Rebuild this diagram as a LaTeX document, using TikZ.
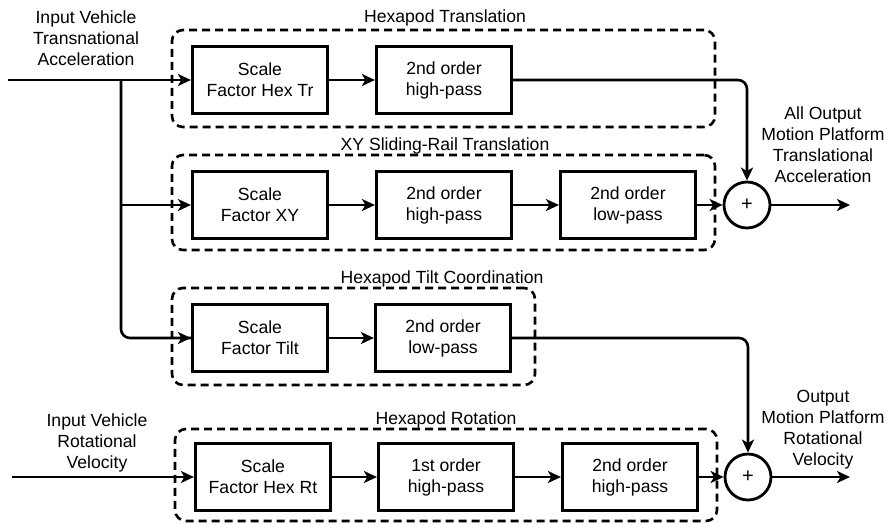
\documentclass[tikz,border=0pt]{standalone}
\usepackage{fontspec}
\setmainfont{Liberation Sans}
\usetikzlibrary{arrows.meta}
\begin{document}
\begin{tikzpicture}[x=1pt,y=-1pt,
  font=\fontsize{17.6}{21}\selectfont,
  blk/.style={draw, line width=3.2pt, minimum width=135pt, minimum height=67pt, align=center, inner sep=0pt},
  grp/.style={draw, dashed, dash pattern=on 8pt off 5pt, line width=2.6pt, rounded corners=11pt, inner sep=0pt},
  gtitle/.style={inner sep=1pt},
  lbl/.style={align=center, inner sep=0pt},
  sumc/.style={draw, circle, line width=2.8pt, minimum size=46pt, inner sep=0pt, font=\fontsize{20}{20}\selectfont},
  con/.style={line width=2.6pt},
  arr/.style={con, -{Stealth[length=13pt,width=12pt,inset=3.5pt]}}]
\useasboundingbox (0,0) rectangle (889,523);

% groups
\node[grp, minimum width=543pt, minimum height=97pt] (g1) at (443.5,78.5) {};
\node[grp, minimum width=543pt, minimum height=95pt] (g2) at (443.5,202.5) {};
\node[grp, minimum width=363pt, minimum height=97pt] (g3) at (353.5,336.5) {};
\node[grp, minimum width=542pt, minimum height=92pt] (g4) at (446,475) {};
\node[gtitle] (t1) at (445,18) {Hexapod Translation};
\node[gtitle] (t2) at (445,146) {XY Sliding-Rail Translation};
\node[gtitle] (t3) at (442,279) {Hexapod Tilt Coordination};
\node[gtitle] (t4) at (446,420) {Hexapod Rotation};

% blocks
\node[blk] (sf1) at (260,80) {Scale\\Factor Hex Tr};
\node[blk] (hp1) at (444,80) {2nd order\\high-pass};
\node[blk] (sf2) at (260,205) {Scale\\Factor XY};
\node[blk] (hp2) at (444,205) {2nd order\\high-pass};
\node[blk] (lp2) at (628,205) {2nd order\\low-pass};
\node[blk] (sf3) at (260,338) {Scale\\Factor Tilt};
\node[blk] (lp3) at (443,338) {2nd order\\low-pass};
\node[blk] (sf4) at (263,477) {Scale\\Factor Hex Rt};
\node[blk] (hp4) at (446,477) {1st order\\high-pass};
\node[blk] (hp4b) at (630,477) {2nd order\\high-pass};

% sums
\node[sumc] (s1) at (747,205) {+};
\node[sumc] (s2) at (748,477) {+};

% labels
\node[lbl] (lin1) at (86,38) {Input Vehicle\\Transnational\\Acceleration};
\node[lbl] (lin2) at (97,443) {Input Vehicle\\Rotational\\Velocity};
\node[lbl] (lout1) at (823,145) {All Output\\Motion Platform\\Translational\\Acceleration};
\node[lbl] (lout2) at (823,430) {Output\\Motion Platform\\Rotational\\Velocity};

% coordinates
\coordinate (in1) at (8,80);
\coordinate (br) at (121,80);
\coordinate (in2) at (12,477);
\coordinate (out1) at (850,205);
\coordinate (out2) at (850,477);

% connectors
\draw[arr] (in1) -- (sf1.west);
\draw[con, rounded corners=9pt] (br) |- (sf3.west);
\draw[arr] (sf3.west) ++(-2,0) -- (sf3.west);
\draw[arr] (br |- sf2.west) -- (sf2.west);
\draw[arr] (sf1) -- (hp1);
\draw[arr, rounded corners=9pt] (hp1.east) -| (s1.north);
\draw[arr] (sf2) -- (hp2);
\draw[arr] (hp2) -- (lp2);
\draw[arr] (lp2) -- (s1);
\draw[arr] (s1) -- (out1);
\draw[arr] (sf3) -- (lp3);
\draw[arr, rounded corners=9pt] (lp3.east) -| (s2.north);
\draw[arr] (in2) -- (sf4.west);
\draw[arr] (sf4) -- (hp4);
\draw[arr] (hp4) -- (hp4b);
\draw[arr] (hp4b) -- (s2);
\draw[arr] (s2) -- (out2);
\end{tikzpicture}
\end{document}
